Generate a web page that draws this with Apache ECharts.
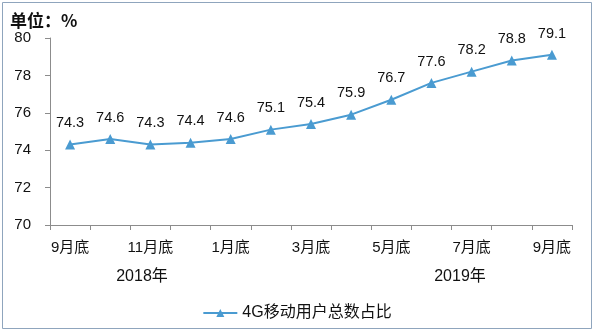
<!DOCTYPE html>
<html>
<head>
<meta charset="utf-8">
<script src="https://cdn.jsdelivr.net/npm/echarts@6/dist/echarts.min.js"></script>
<style>
  html, body { margin: 0; padding: 0; background: #fff; }
  #chart { width: 594px; height: 331px; }
</style>
</head>
<body>
<div id="chart"></div>
<script>
// 4G share of mobile subscribers, end of month, Sep 2018 – Sep 2019
var months = ['9月底', '10月底', '11月底', '12月底', '1月底', '2月底', '3月底',
              '4月底', '5月底', '6月底', '7月底', '8月底', '9月底'];
var share4G = [74.3, 74.6, 74.3, 74.4, 74.6, 75.1, 75.4, 75.9, 76.7, 77.6, 78.2, 78.8, 79.1];
var seriesName = '4G移动用户总数占比';
var unitText = '单位：%';
var yearLabels = ['2018年', '2019年'];

var FONT = "'Liberation Sans', 'Noto Sans CJK SC', sans-serif";
var BLUE = '#4A9BD1';

var chart = echarts.init(document.getElementById('chart'), null, { renderer: 'canvas' });
chart.setOption({
  animation: false,
  backgroundColor: '#fff',
  textStyle: { fontFamily: FONT },
  grid: { left: 50, right: 22, top: 38, bottom: 106, containLabel: false },
  xAxis: {
    type: 'category',
    data: months,
    boundaryGap: true,
    axisLine: { lineStyle: { color: '#8c8c8c', width: 1 } },
    axisTick: { show: true, interval: 0, length: 5, lineStyle: { color: '#8c8c8c' } },
    axisLabel: { interval: 1, margin: 15, fontSize: 15, color: '#111', fontFamily: FONT },
    splitLine: { show: false }
  },
  yAxis: {
    type: 'value',
    min: 70, max: 80, interval: 2,
    axisLine: { show: true, lineStyle: { color: '#8c8c8c', width: 1 } },
    axisTick: { show: true, length: 5, lineStyle: { color: '#8c8c8c' } },
    axisLabel: { margin: 19, fontSize: 15, color: '#111', fontFamily: FONT },
    splitLine: { show: false }
  },
  legend: {
    data: [seriesName],
    left: 'center',
    top: 300,
    itemWidth: 34,
    itemHeight: 10,
    itemGap: 4,
    textStyle: { fontSize: 16, color: '#111', fontFamily: FONT }
  },
  series: [{
    name: seriesName,
    type: 'line',
    data: share4G,
    symbol: 'triangle',
    symbolSize: 10,
    lineStyle: { color: BLUE, width: 2 },
    itemStyle: { color: BLUE },
    label: {
      show: true,
      position: 'top',
      distance: 9,
      fontSize: 14.5,
      color: '#111',
      fontFamily: FONT
    }
  }],
  graphic: [
    {
      type: 'rect',
      shape: { x: 2.5, y: 2.5, width: 589, height: 326 },
      style: { fill: 'none', stroke: '#8fa5bd', lineWidth: 1 },
      silent: true
    },
    {
      type: 'text',
      left: 10, top: 12,
      style: { text: unitText, font: "bold 17px 'Noto Sans CJK SC', sans-serif", fill: '#111' }
    },
    {
      type: 'text',
      x: 142, y: 277,
      style: { text: yearLabels[0], font: "16px " + FONT, fill: '#111', align: 'center', verticalAlign: 'middle' }
    },
    {
      type: 'text',
      x: 460, y: 277,
      style: { text: yearLabels[1], font: "16px " + FONT, fill: '#111', align: 'center', verticalAlign: 'middle' }
    }
  ]
});
</script>
</body>
</html>
